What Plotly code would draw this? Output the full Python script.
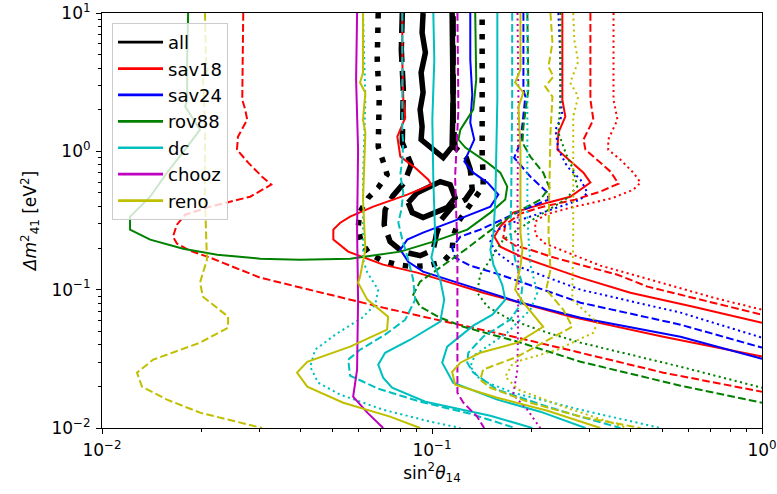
import plotly.graph_objects as go

# All contour values are stored as log10 of the physical quantities:
#   *_ls2  = log10(sin^2 theta_14),  *_ldm = log10(Delta m^2_41 / eV^2)

# ---- all (black) ----
all_solid_a_ls2 = [-1.027, -1.030, -1.020, -1.033, -1.027, -1.036, -1.030, -1.033, -0.966, -0.939, -0.936, -0.939]
all_solid_a_ldm = [1.0, 0.858, 0.714, 0.569, 0.424, 0.302, 0.179, 0.085, -0.046, 0.034, 0.374, 1.0]
all_solid_b_ls2 = [-1.072, -1.045, -0.975, -0.945, -0.930, -0.954, -1.027, -1.060, -1.072]
all_solid_b_ldm = [-0.371, -0.299, -0.219, -0.241, -0.335, -0.407, -0.479, -0.443, -0.371]
all_dash_ls2 = [-1.090, -1.093, -1.087, -1.090, -1.063, -1.084, -1.118, -1.142, -1.145, -1.127, -1.090,
                -1.036, -0.996, -0.987, -0.972, -0.939, -0.899, -0.878, -0.884, -0.896, -0.930, -0.936, -0.936]
all_dash_ldm = [1.0, 0.735, 0.446, 0.063, -0.096, -0.226, -0.320, -0.422, -0.530, -0.653, -0.725,
                -0.754, -0.711, -0.602, -0.494, -0.400, -0.349, -0.277, -0.132, -0.046, 0.027, 0.229, 1.0]
all_dot_ls2 = [-1.163, -1.166, -1.160, -1.163, -1.148, -1.136, -1.163, -1.193, -1.218, -1.224, -1.215, -1.190,
               -1.151, -1.105, -1.060, -1.011, -0.966, -0.939, -0.936, -0.920, -0.899, -0.875, -0.845, -0.845,
               -0.848, -0.848, -0.848]
all_dot_ldm = [1.0, 0.663, 0.374, 0.034, -0.074, -0.168, -0.262, -0.335, -0.436, -0.552, -0.653, -0.740,
               -0.790, -0.819, -0.834, -0.826, -0.798, -0.725, -0.617, -0.508, -0.436, -0.349, -0.255, -0.168,
               -0.038, 0.374, 1.0]

# ---- sav18 (red) ----
sav18_solid_a_ls2 = [-1.090, -1.090, -1.087, -1.081, -1.105, -1.096, -1.051, -1.011, -1.002, -1.075, -1.178, -1.248,
                     -1.278, -1.299, -1.299, -1.254, -1.148, -1.045, -0.945, -0.845, -0.711, -0.581, -0.299, 0.0]
sav18_solid_a_ldm = [1.0, 0.663, 0.374, 0.244, 0.106, -0.038, -0.118, -0.205, -0.241, -0.313, -0.400, -0.472,
                     -0.516, -0.566, -0.638, -0.725, -0.819, -0.877, -0.949, -1.022, -1.109, -1.195, -1.340, -1.484]
sav18_solid_b_ls2 = [-0.605, -0.605, -0.596, -0.617, -0.620, -0.587, -0.541, -0.520, -0.581, -0.650, -0.754, -0.793,
                     -0.811, -0.793, -0.723, -0.620, -0.550, -0.399, -0.208, 0.0]
sav18_solid_b_ldm = [1.0, 0.374, 0.251, 0.135, 0.012, -0.060, -0.154, -0.226, -0.328, -0.371, -0.443, -0.544,
                     -0.617, -0.689, -0.769, -0.855, -0.913, -1.022, -1.123, -1.239]
sav18_dash_a_ls2 = [-1.572, -1.575, -1.566, -1.560, -1.588, -1.591, -1.557, -1.515, -1.487, -1.551, -1.672, -1.748,
                    -1.773, -1.785, -1.773, -1.733, -1.672, -1.603, -1.521, -1.348, -1.148, -0.945, -0.741, -0.550,
                    -0.299, 0.0]
sav18_dash_a_ldm = [1.0, 0.374, 0.302, 0.229, 0.106, 0.012, -0.082, -0.183, -0.241, -0.328, -0.400, -0.458,
                    -0.530, -0.617, -0.667, -0.718, -0.769, -0.834, -0.913, -1.014, -1.130, -1.239, -1.347, -1.456,
                    -1.600, -1.738]
sav18_dash_b_ls2 = [-0.520, -0.520, -0.511, -0.541, -0.535, -0.499, -0.459, -0.435, -0.490, -0.566, -0.663, -0.732,
                    -0.778, -0.784, -0.748, -0.702, -0.641, -0.529, -0.438, -0.347, -0.186, 0.0]
sav18_dash_b_ldm = [1.0, 0.374, 0.229, 0.085, 0.012, -0.060, -0.147, -0.234, -0.291, -0.349, -0.400, -0.450,
                    -0.530, -0.624, -0.682, -0.711, -0.761, -0.834, -0.892, -0.978, -1.072, -1.181]
sav18_dot_ls2 = [-0.450, -0.450, -0.438, -0.466, -0.466, -0.429, -0.390, -0.368, -0.390, -0.450, -0.499, -0.581,
                 -0.657, -0.687, -0.687, -0.657, -0.596, -0.490, -0.338, -0.147, 0.0]
sav18_dot_ldm = [1.0, 0.374, 0.229, 0.085, 0.012, -0.060, -0.154, -0.226, -0.277, -0.335, -0.364, -0.407,
                 -0.458, -0.508, -0.602, -0.667, -0.725, -0.826, -0.928, -1.058, -1.145]

# ---- sav24 (blue) ----
sav24_solid_ls2 = [-0.884, -0.884, -0.878, -0.884, -0.872, -0.902, -0.875, -0.832, -0.799, -0.823, -0.923, -1.027,
                   -1.075, -1.096, -1.072, -1.027, -0.923, -0.741, -0.550, -0.247, 0.0]
sav24_solid_ldm = [1.0, 0.663, 0.410, 0.208, 0.085, -0.074, -0.154, -0.226, -0.313, -0.400, -0.494, -0.588,
                   -0.638, -0.711, -0.798, -0.870, -0.949, -1.087, -1.203, -1.340, -1.499]
sav24_dash_ls2 = [-0.723, -0.723, -0.717, -0.726, -0.732, -0.751, -0.702, -0.650, -0.647, -0.723, -0.802, -0.854,
                  -0.914, -0.939, -0.930, -0.884, -0.793, -0.550, -0.247, 0.0]
sav24_dash_ldm = [1.0, 0.446, 0.396, 0.179, 0.063, -0.046, -0.183, -0.299, -0.349, -0.422, -0.508, -0.566,
                  -0.617, -0.696, -0.769, -0.826, -0.892, -1.094, -1.253, -1.419]
sav24_dot_ls2 = [-0.617, -0.611, -0.611, -0.605, -0.626, -0.617, -0.590, -0.550, -0.529, -0.550, -0.657, -0.748,
                 -0.814, -0.823, -0.808, -0.754, -0.550, -0.247, 0.0]
sav24_dot_ldm = [1.0, 0.663, 0.374, 0.265, 0.157, 0.012, -0.111, -0.205, -0.299, -0.349, -0.436, -0.508,
                 -0.581, -0.653, -0.725, -0.819, -1.000, -1.166, -1.347]

# ---- rov88 (green) ----
rov88_solid_ls2 = [-1.739, -1.742, -1.742, -1.748, -1.703, -1.748, -1.803, -1.854, -1.915, -1.915, -1.854, -1.754,
                   -1.651, -1.521, -1.400, -1.248, -1.096, -0.996, -0.893, -0.823, -0.778, -0.772, -0.793, -0.832,
                   -0.899, -0.920, -0.914, -0.875, -0.866, -0.869, -0.869]
rov88_solid_ldm = [1.0, 0.663, 0.374, 0.323, 0.157, 0.012, -0.154, -0.328, -0.472, -0.566, -0.638, -0.704,
                   -0.747, -0.776, -0.783, -0.776, -0.725, -0.653, -0.566, -0.443, -0.349, -0.255, -0.154, -0.082,
                   0.027, 0.085, 0.157, 0.302, 0.518, 0.808, 1.0]
rov88_dash_ls2 = [-0.711, -0.708, -0.723, -0.726, -0.702, -0.663, -0.644, -0.672, -0.757, -0.832, -0.899, -0.975,
                  -1.036, -1.057, -1.036, -0.975, -0.905, -0.741, -0.550, -0.247, 0.0]
rov88_dash_ldm = [1.0, 0.446, 0.179, 0.063, -0.038, -0.154, -0.262, -0.349, -0.458, -0.588, -0.711, -0.841,
                  -0.942, -1.036, -1.123, -1.203, -1.268, -1.376, -1.521, -1.694, -1.817]
rov88_dot_ls2 = [-0.611, -0.611, -0.617, -0.593, -0.572, -0.560, -0.596, -0.681, -0.784, -0.823, -0.854, -0.863,
                 -0.832, -0.763, -0.650, -0.550, -0.247, 0.0]
rov88_dot_ldm = [1.0, 0.374, 0.135, -0.024, -0.132, -0.255, -0.349, -0.472, -0.638, -0.783, -0.892, -1.022,
                 -1.123, -1.217, -1.311, -1.383, -1.557, -1.709]

# ---- dc (cyan) ----
dc_solid_a_ls2 = [-0.996, -0.993, -0.999, -0.996, -0.990, -1.002, -0.975, -0.963, -0.975, -1.066, -1.142, -1.163,
                  -1.148, -1.121, -1.020, -0.823, -0.696]
dc_solid_a_ldm = [1.0, 0.663, 0.229, -0.205, -0.638, -0.769, -0.928, -1.072, -1.231, -1.362, -1.456, -1.542,
                  -1.636, -1.709, -1.810, -1.911, -2.0]
dc_solid_b_ls2 = [-0.802, -0.802, -0.808, -0.814, -0.823, -0.814, -0.787, -0.778, -0.817, -0.875, -0.954, -0.969,
                  -0.936, -0.802, -0.672, -0.535]
dc_solid_b_ldm = [1.0, 0.374, -0.349, -0.602, -0.711, -0.819, -0.964, -1.072, -1.181, -1.260, -1.412, -1.528,
                  -1.672, -1.795, -1.882, -2.0]
dc_dash_a_ls2 = [-1.090, -1.090, -1.087, -1.090, -1.096, -1.087, -1.093, -1.102, -1.090, -1.072, -1.057, -1.051,
                 -1.081, -1.142, -1.218, -1.254, -1.248, -1.163, -1.036, -0.884, -0.748]
dc_dash_a_ldm = [1.0, 0.135, 0.063, -0.060, -0.168, -0.299, -0.422, -0.516, -0.638, -0.783, -0.928, -1.072,
                 -1.217, -1.325, -1.434, -1.506, -1.622, -1.716, -1.810, -1.897, -2.0]
dc_dash_b_ls2 = [-0.757, -0.757, -0.760, -0.763, -0.748, -0.726, -0.732, -0.763, -0.845, -0.890, -0.893, -0.875,
                 -0.802, -0.650, -0.550, -0.429]
dc_dash_b_ldm = [1.0, 0.374, -0.349, -0.588, -0.783, -0.964, -1.109, -1.217, -1.340, -1.456, -1.528, -1.600,
                 -1.723, -1.846, -1.918, -2.0]
dc_dot_a_ls2 = [-1.209, -1.202, -1.209, -1.209, -1.196, -1.163, -1.172, -1.212, -1.293, -1.354, -1.369, -1.345,
                -1.278, -1.148, -1.005, -0.914]
dc_dot_a_ldm = [1.0, 0.374, -0.205, -0.783, -0.877, -1.000, -1.109, -1.203, -1.325, -1.434, -1.557, -1.672,
                -1.759, -1.868, -1.954, -2.0]
dc_dot_b_ls2 = [-0.711, -0.711, -0.711, -0.708, -0.702, -0.681, -0.702, -0.772, -0.823, -0.869, -0.884, -0.854,
                -0.754, -0.550, -0.308]
dc_dot_b_ldm = [1.0, 0.374, -0.472, -0.602, -0.819, -1.022, -1.145, -1.311, -1.398, -1.470, -1.557, -1.651,
                -1.745, -1.868, -2.0]

# ---- chooz (magenta) ----
chooz_solid_ls2 = [-1.227, -1.230, -1.224, -1.227, -1.224, -1.227, -1.239, -1.196, -1.148]
chooz_solid_ldm = [1.0, 0.518, 0.012, -0.566, -1.072, -1.578, -1.774, -1.889, -2.0]
chooz_dash_ls2 = [-0.923, -0.920, -0.930, -0.923, -0.923, -0.923, -0.905, -0.863, -0.842]
chooz_dash_ldm = [1.0, 0.302, -0.183, -0.711, -1.289, -1.745, -1.817, -1.918, -2.0]
chooz_dot_ls2 = [-0.741, -0.738, -0.741, -0.738, -0.741, -0.754, -0.711, -0.672]
chooz_dot_ldm = [1.0, 0.374, -0.349, -0.928, -1.578, -1.759, -1.868, -2.0]

# ---- reno (yellow) ----
reno_solid_a_ls2 = [-1.209, -1.209, -1.218, -1.202, -1.209, -1.202, -1.209, -1.202, -1.218, -1.224, -1.196, -1.133,
                    -1.136, -1.248, -1.378, -1.409, -1.378, -1.269, -1.127, -1.036]
reno_solid_a_ldm = [1.0, 0.569, 0.497, 0.424, 0.229, 0.135, -0.349, -0.711, -0.906, -0.949, -1.072, -1.195,
                    -1.289, -1.412, -1.521, -1.600, -1.701, -1.817, -1.918, -2.0]
reno_solid_b_ls2 = [-0.732, -0.732, -0.748, -0.723, -0.738, -0.732, -0.732, -0.726, -0.732, -0.748, -0.723, -0.663,
                    -0.741, -0.854, -0.914, -0.939, -0.930, -0.802, -0.650, -0.490]
reno_solid_b_ldm = [1.0, 0.591, 0.497, 0.424, 0.323, 0.012, -0.588, -0.711, -0.834, -1.000, -1.094, -1.268,
                    -1.383, -1.456, -1.528, -1.593, -1.687, -1.781, -1.875, -2.0]
reno_dash_a_ls2 = [-1.688, -1.685, -1.679, -1.694, -1.688, -1.688, -1.682, -1.703, -1.694, -1.618, -1.618, -1.703,
                   -1.845, -1.894, -1.879, -1.803, -1.703, -1.582, -1.515]
reno_dash_a_ldm = [1.0, 0.663, 0.591, 0.518, 0.229, -0.349, -0.783, -0.949, -1.051, -1.195, -1.275, -1.383,
                   -1.506, -1.600, -1.701, -1.795, -1.889, -1.962, -2.0]
reno_dash_b_ls2 = [-0.641, -0.635, -0.647, -0.632, -0.657, -0.635, -0.641, -0.647, -0.641, -0.654, -0.602, -0.575,
                   -0.647, -0.741, -0.845, -0.854, -0.823, -0.702, -0.550, -0.368]
reno_dash_b_ldm = [1.0, 0.786, 0.612, 0.540, 0.468, 0.396, 0.135, -0.588, -0.855, -1.000, -1.145, -1.268,
                   -1.362, -1.484, -1.578, -1.651, -1.709, -1.817, -1.918, -2.0]
reno_dot_ls2 = [-0.572, -0.569, -0.557, -0.581, -0.557, -0.572, -0.572, -0.575, -0.499, -0.511, -0.620, -0.754,
                -0.778, -0.738, -0.602, -0.408]
reno_dot_ldm = [1.0, 0.808, 0.649, 0.497, 0.396, 0.251, -0.588, -1.072, -1.239, -1.311, -1.434, -1.528,
                -1.629, -1.723, -1.846, -2.0]

legend_labels = ["all", "sav18", "sav24", "rov88", "dc", "chooz", "reno"]
legend_colors = ["#000000", "#ff0000", "#0000ff", "#008000", "#00bfbf", "#bf00bf", "#bfbf00"]

x_tick_exponents = [-2, -1, 0]
y_tick_exponents = [-2, -1, 0, 1]
minor_mantissas = [2, 3, 4, 5, 6, 7, 8, 9]

THIN = 2.0
THICK = 5.5
STYLE_THIN = {"solid": "solid", "dash": "7.7px,3.3px", "dot": "2.1px,3.4px"}
STYLE_THICK = {"solid": "solid", "dash": "20px,9px", "dot": "5.5px,9px"}

fig = go.Figure()


def add_curve(ls2, ldm, color, style, thick=False):
    fig.add_trace(go.Scatter(
        x=[10 ** v for v in ls2], y=[10 ** v for v in ldm], mode="lines",
        line=dict(color=color, width=THICK if thick else THIN,
                  dash=(STYLE_THICK if thick else STYLE_THIN)[style]),
        showlegend=False, hoverinfo="skip"))


k, r, b, g, c, m, y = legend_colors
add_curve(all_solid_a_ls2, all_solid_a_ldm, k, "solid", True)
add_curve(all_solid_b_ls2, all_solid_b_ldm, k, "solid", True)
add_curve(all_dash_ls2, all_dash_ldm, k, "dash", True)
add_curve(all_dot_ls2, all_dot_ldm, k, "dot", True)

add_curve(sav18_solid_a_ls2, sav18_solid_a_ldm, r, "solid")
add_curve(sav18_solid_b_ls2, sav18_solid_b_ldm, r, "solid")
add_curve(sav18_dash_a_ls2, sav18_dash_a_ldm, r, "dash")
add_curve(sav18_dash_b_ls2, sav18_dash_b_ldm, r, "dash")
add_curve(sav18_dot_ls2, sav18_dot_ldm, r, "dot")

add_curve(sav24_solid_ls2, sav24_solid_ldm, b, "solid")
add_curve(sav24_dash_ls2, sav24_dash_ldm, b, "dash")
add_curve(sav24_dot_ls2, sav24_dot_ldm, b, "dot")

add_curve(rov88_solid_ls2, rov88_solid_ldm, g, "solid")
add_curve(rov88_dash_ls2, rov88_dash_ldm, g, "dash")
add_curve(rov88_dot_ls2, rov88_dot_ldm, g, "dot")

add_curve(dc_solid_a_ls2, dc_solid_a_ldm, c, "solid")
add_curve(dc_solid_b_ls2, dc_solid_b_ldm, c, "solid")
add_curve(dc_dash_a_ls2, dc_dash_a_ldm, c, "dash")
add_curve(dc_dash_b_ls2, dc_dash_b_ldm, c, "dash")
add_curve(dc_dot_a_ls2, dc_dot_a_ldm, c, "dot")
add_curve(dc_dot_b_ls2, dc_dot_b_ldm, c, "dot")

add_curve(chooz_solid_ls2, chooz_solid_ldm, m, "solid")
add_curve(chooz_dash_ls2, chooz_dash_ldm, m, "dash")
add_curve(chooz_dot_ls2, chooz_dot_ldm, m, "dot")

add_curve(reno_solid_a_ls2, reno_solid_a_ldm, y, "solid")
add_curve(reno_solid_b_ls2, reno_solid_b_ldm, y, "solid")
add_curve(reno_dash_a_ls2, reno_dash_a_ldm, y, "dash")
add_curve(reno_dash_b_ls2, reno_dash_b_ldm, y, "dash")
add_curve(reno_dot_ls2, reno_dot_ldm, y, "dot")

for i, (lab, col) in enumerate(zip(legend_labels, legend_colors)):
    fig.add_trace(go.Scatter(x=[None], y=[None], mode="lines", name=lab,
                             line=dict(color=col, width=2.7), legendgroup=f"g{i}"))


def power_label(e):
    return "10<sup>" + ("\u2212" + str(-e) if e < 0 else str(e)) + "</sup>"


def minor_vals(exps):
    vals = []
    for e in exps[:-1]:
        vals += [mm * 10 ** e for mm in minor_mantissas]
    return vals


FONT = "DejaVu Sans"
axis_common = dict(
    type="log", showgrid=False, zeroline=False, showline=True, linecolor="black", linewidth=1.1,
    mirror=True, ticks="outside", ticklen=5, tickwidth=1.1, tickcolor="black", automargin=False,
    tickfont=dict(family=FONT, size=17, color="black"), ticklabelstandoff=2,
)

fig.update_layout(
    width=777, height=494,
    margin=dict(l=102, r=15, t=13, b=66),
    paper_bgcolor="white", plot_bgcolor="white",
    font=dict(family=FONT, size=17, color="black"),
    xaxis=dict(range=[-2, 0],
               tickvals=[10 ** e for e in x_tick_exponents], ticktext=[power_label(e) for e in x_tick_exponents],
               minor=dict(tickvals=minor_vals(x_tick_exponents), ticks="outside", ticklen=3, tickwidth=0.8,
                          tickcolor="black", showgrid=False),
               title=dict(text="sin<sup>2</sup><i>θ</i><sub>14</sub>", font=dict(family=FONT, size=17), standoff=6),
               **axis_common),
    yaxis=dict(range=[-2, 1],
               tickvals=[10 ** e for e in y_tick_exponents], ticktext=[power_label(e) for e in y_tick_exponents],
               minor=dict(tickvals=minor_vals(y_tick_exponents), ticks="outside", ticklen=3, tickwidth=0.8,
                          tickcolor="black", showgrid=False),
               title=dict(text="<i>Δm</i><sup>2</sup><sub>41</sub> [eV<sup>2</sup>]",
                          font=dict(family=FONT, size=17), standoff=10),
               **axis_common),
    legend=dict(x=0.0152, y=0.976, xanchor="left", yanchor="top", itemwidth=45,
                bgcolor="rgba(255,255,255,0.8)", bordercolor="#cccccc", borderwidth=1,
                font=dict(family=FONT, size=18, color="black"), tracegroupgap=7, traceorder="normal"),
    showlegend=True,
)

fig.write_html("out.html")
